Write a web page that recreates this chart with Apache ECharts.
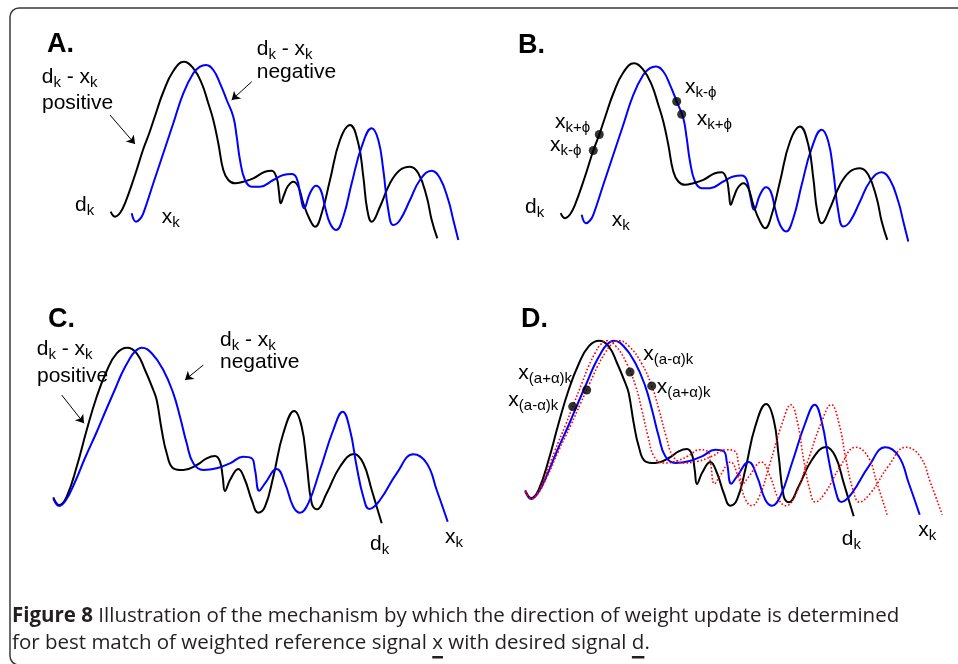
<!DOCTYPE html>
<html>
<head>
<meta charset="utf-8">
<title>Figure 8</title>
<script src="https://cdn.jsdelivr.net/npm/echarts@6/dist/echarts.min.js"></script>
<style>
  html, body { margin: 0; padding: 0; background: #fff; }
</style>
</head>
<body>
<div id="main" style="width:958px;height:664px;"></div>
<script type="text/javascript">

// ---- signals of panels A and B (time, amplitude) ----
var dkAB = [[10.7,38.3],[15,33.3],[20,37],[25,46.7],[35,75],[43.3,101],[49.3,117],[55,134],[63.3,158],[73.3,179],[84,188.3],
  [93.3,181.7],[101.7,166.7],[108.3,146.7],[113.3,130],[118.3,106.7],[123.3,80],[128.3,70],[135,66.7],[143.3,68.3],
  [153.3,71.7],[165,78.3],[171.7,79.3],[176.7,72],[179,58],[180.7,46.7],[184,55],[188,64],[193.3,68.3],[198.3,63.3],
  [203.3,46.7],[210,30],[215,23.3],[221.7,36.7],[230,70],[240,110],[250,125],[258.3,106.7],[263.3,73.3],[267.3,40],
  [271.7,28.3],[280,43.3],[290,66.7],[300,80],[310,83.3],[318.3,76.7],[326.7,53.3],[331.7,30],[337.3,11.7]];
var xkAB = [[31.7,36.7],[36,28.3],[40,31],[43.3,36.7],[53.3,66.7],[63.3,96.7],[73.3,126.7],[83.3,156.7],[93.3,176.7],
  [100,183.3],[106,185],[113.3,180],[120,166.7],[126.7,150],[133.3,133.3],[136.7,113.3],[140,90],[145,70],[151.7,63.3],
  [160,63.3],[173.3,70],[183.3,75],[191.7,76],[196.7,71.7],[200.7,53.3],[204,41.7],[210,56.7],[216,64.3],[220.7,60],
  [225,43.3],[230,26.7],[236,20],[243.3,33.3],[251.7,66.7],[261.7,103.3],[271.7,121.7],[278.3,110],[283.3,80],
  [288.3,40],[293.3,25],[300,30],[310,50],[320,70],[331.7,79.3],[340,71.7],[348.3,50],[353.3,30],[358.3,10]];
var dotsB = [[43.3,101],[49.3,117],[126.7,150],[131.7,137.3]];

// ---- signals of panels C and D ----
var dkCD = [[3.3,32.7],[9.3,25],[16.7,33.3],[26.7,63.3],[36.7,100],[46.7,133.3],[56.7,159],[66.7,176.7],[77.3,182.3],
  [86.7,176.7],[95,160],[103.3,140],[106.7,130],[111.7,100],[116.7,76.7],[123.3,61.7],[133.3,60],[146.7,65],
  [156.7,71.7],[165,74],[170,68.3],[172.7,53.3],[175,39],[180,50],[188.3,61],[195,50],[201.7,30],[208.3,17.3],
  [215,23.3],[223.3,53.3],[233.3,96.7],[244.3,119],[251.7,103.3],[256.7,66.7],[261.7,26.7],[266.7,20.7],[276.7,36.7],
  [290,63.3],[304,76],[313.3,66.7],[321.7,40],[326.7,23.3],[331.7,6.7]];
var xkCD = [[3.3,31.7],[9.3,24],[16,30],[25,48],[35,72],[46.7,98],[56,120],[64.7,140],[72,157],[79,170],[85,178.5],
  [91.7,182.3],[101.7,176.7],[113.3,160],[123.3,136.7],[130,113.3],[136.7,86.7],[143.3,66.7],[153.3,60],[166.7,61.7],
  [180,66.7],[193.3,73.3],[201.7,71.7],[205,60],[209.3,39.3],[215,46.7],[226.7,61],[235,46.7],[243.3,23.3],[250,17.3],
  [258.3,26.7],[270,60],[283.3,100],[292.7,118.3],[300,100],[306.7,63.3],[313.3,33.3],[319.3,21],[330,30],[346.7,56.7],
  [363.3,75.7],[376.7,66.7],[386.7,40],[397.7,8.3]];
// x_(a+alpha)k : faster copy of x
var xFastD = [[3.8,31.7],[9.3,24],[15.4,30],[23.7,48],[32.8,72],[43.5,98],[52.1,120],[60,140],[66.7,157],[73.1,170],
  [78.6,178.5],[84.8,182.3],[93.9,176.7],[104.5,160],[113.7,136.7],[119.8,113.3],[126,86.7],[132,66.7],[141.2,60],
  [153.5,61.7],[165.6,66.7],[177.8,73.3],[185.5,71.7],[188.5,60],[192.5,39.3],[197.7,46.7],[208.4,61],[216,46.7],
  [223.6,23.3],[229.8,17.3],[237.4,26.7],[248.1,60],[260.3,100],[268.9,118.3],[275.6,100],[281.7,63.3],[287.8,33.3],
  [293.2,21],[303,30],[318.3,56.7],[333.6,75.7],[345.8,66.7],[355,40],[365.1,8.3]];
// x_(a-alpha)k : slower copy of x
var xSlowD = [[3,31.7],[9.3,24],[16.4,30],[25.9,48],[36.5,72],[48.9,98],[58.7,120],[67.9,140],[75.7,157],[83.1,170],
  [89.4,178.5],[96.5,182.3],[107.1,176.7],[119.4,160],[129.9,136.7],[137,113.3],[144.1,86.7],[151.1,66.7],[161.7,60],
  [175.8,61.7],[189.9,66.7],[204,73.3],[212.9,71.7],[216.4,60],[220.9,39.3],[227,46.7],[239.3,61],[248.1,46.7],
  [256.9,23.3],[264,17.3],[272.8,26.7],[285.1,60],[299.2,100],[309.2,118.3],[316.9,100],[324,63.3],[331,33.3],
  [337.3,21],[348.6,30],[366.3,56.7],[383.9,75.7],[398,66.7],[408.6,40],[420.2,8.3]];
var dotsD = [[50.7,116.4],[64.7,133],[108,151],[129.7,137.1]];

// arrows [from, to] in panel coordinates
var arrowsA = [[[10,135],[35,106]], [[151.7,168.3],[131.7,150]]];
var arrowsC = [[[11.7,135],[34,106.7]], [[153.3,165],[135,150]]];

var captionLine1a = 'Figure 8';
var captionLine1b = ' Illustration of the mechanism by which the direction of weight update is determined';
var captionLine2a = 'for best match of weighted reference signal ';
var captionLine2b = 'x';
var captionLine2c = ' with desired signal ';
var captionLine2d = 'd';

var FONT = '"Liberation Sans", Arial, sans-serif';
var CAPFONT = '"Open Sans", sans-serif';

var grids = [
  { left: 100, top: 50, width: 370, height: 200 },
  { left: 550, top: 51.5, width: 370, height: 200 },
  { left: 50, top: 330, width: 430, height: 200 },
  { left: 522, top: 323, width: 430, height: 200 }
];

function curve(idx, data, color, extra) {
  var s = {
    type: 'line', xAxisIndex: idx, yAxisIndex: idx, data: data,
    smooth: 0.45, showSymbol: false, symbol: 'none', silent: true,
    lineStyle: { color: color, width: 2 }
  };
  for (var k in (extra || {})) s[k] = extra[k];
  return s;
}

function dots(idx, data) {
  return {
    type: 'scatter', xAxisIndex: idx, yAxisIndex: idx, data: data, silent: true,
    symbol: 'circle', symbolSize: 9, itemStyle: { color: '#000' }, z: 5
  };
}

function arrows(list) {
  return {
    silent: true, symbol: ['none', 'arrow'], symbolSize: 8,
    lineStyle: { color: '#000', width: 1, type: 'solid' }, label: { show: false },
    data: list.map(function (a) { return [{ coord: a[0] }, { coord: a[1] }]; })
  };
}

var rich = {
  m: { fontSize: 21, fontFamily: FONT, lineHeight: 25 },
  s: { fontSize: 15, fontFamily: FONT, lineHeight: 14, verticalAlign: 'bottom' }
};

// label helper: x = left edge, base = baseline of main letters
function lab(x, base, txt) {
  if (txt.indexOf('{') < 0) txt = '{m|' + txt + '}';
  return {
    type: 'text', x: x, y: base - 20, silent: true,
    style: { text: txt, rich: rich, fill: '#000', align: 'left', verticalAlign: 'top' }
  };
}
// panel letter, y = top of the capital
function panelTitle(x, top, txt) {
  return {
    type: 'text', x: x, y: top, silent: true,
    style: { text: txt, font: 'bold 27px ' + FONT, fill: '#000', align: 'left', verticalAlign: 'top' }
  };
}

var DK = '{m|d}{s|k}', XK = '{m|x}{s|k}', DMX = '{m|d}{s|k}{m| - x}{s|k}';

// caption font size fitted to the printed line width
var ctx = document.createElement('canvas').getContext('2d');
function tw(t, f) { ctx.font = f; return ctx.measureText(t).width; }
var w1 = tw(captionLine1a, 'bold 20px ' + CAPFONT) + tw(captionLine1b, '20px ' + CAPFONT);
var capSize = Math.round(20 * 886 / w1 * 10) / 10;
var capF = capSize + 'px ' + CAPFONT;
var ulX = 12 + tw(captionLine2a, capF);
var ulW = tw(captionLine2b, capF);
var ulX2 = ulX + ulW + tw(captionLine2c, capF);
var ulW2 = tw(captionLine2d, capF);

var graphics = [
  { type: 'rect', silent: true, shape: { x: 10, y: 8, width: 990, height: 657, r: 9 },
    style: { fill: 'none', stroke: '#3a3a3a', lineWidth: 1.5 } },
  panelTitle(47, 31, 'A.'), panelTitle(518, 32, 'B.'), panelTitle(48, 306, 'C.'), panelTitle(521, 306, 'D.'),
  // A
  lab(41.7, 85, DMX), lab(42, 111, 'positive'), lab(256.7, 57, DMX), lab(256.7, 80, 'negative'),
  lab(75, 213, DK), lab(161.7, 225, XK),
  // B
  lab(685, 95, '{m|x}{s|k-ϕ}'), lab(696.7, 127, '{m|x}{s|k+ϕ}'),
  lab(555, 130, '{m|x}{s|k+ϕ}'), lab(550, 153, '{m|x}{s|k-ϕ}'),
  lab(525, 215, DK), lab(611.7, 228, XK),
  // C
  lab(36.7, 357, DMX), lab(37, 384, 'positive'), lab(220, 348, DMX), lab(220, 370, 'negative'),
  lab(370, 552, DK), lab(445, 545, XK),
  // D
  lab(518.3, 381, '{m|x}{s|(a+α)k}'), lab(508.3, 408, '{m|x}{s|(a-α)k}'),
  lab(643.3, 362, '{m|x}{s|(a-α)k}'), lab(656.7, 395, '{m|x}{s|(a+α)k}'),
  lab(841.7, 547, DK), lab(918.3, 538, XK),
  // caption
  { type: 'text', x: 12, y: 606, silent: true,
    style: { text: '{b|' + captionLine1a + '}{n|' + captionLine1b + '}', fill: '#231f20', verticalAlign: 'top',
      rich: { b: { font: 'bold ' + capF }, n: { font: capF } } } },
  { type: 'text', x: 12, y: 633, silent: true,
    style: { text: captionLine2a + captionLine2b + captionLine2c + captionLine2d + '.', font: capF,
      fill: '#231f20', verticalAlign: 'top' } },
  { type: 'rect', silent: true, shape: { x: ulX, y: 656, width: ulW, height: 2.5 }, style: { fill: '#231f20' } },
  { type: 'rect', silent: true, shape: { x: ulX2, y: 656, width: ulW2, height: 2.5 }, style: { fill: '#231f20' } }
];

var option = {
  animation: false,
  backgroundColor: '#fff',
  grid: grids,
  xAxis: grids.map(function (g, i) {
    return { type: 'value', gridIndex: i, min: 0, max: g.width, show: false, splitLine: { show: false } };
  }),
  yAxis: grids.map(function (g, i) {
    return { type: 'value', gridIndex: i, min: 0, max: 200, show: false, splitLine: { show: false } };
  }),
  series: [
    curve(0, dkAB, '#000', { markLine: arrows(arrowsA) }),
    curve(0, xkAB, '#0000ff'),
    curve(1, xkAB, '#0000ff'),
    curve(1, dkAB, '#000'),
    dots(1, dotsB),
    curve(2, dkCD, '#000', { markLine: arrows(arrowsC) }),
    curve(2, xkCD, '#0000ff'),
    curve(3, dkCD, '#000'),
    curve(3, xkCD, '#0000ff'),
    curve(3, xFastD, '#ff0000', { lineStyle: { color: '#ff0000', width: 1.6, type: [1.6, 2] } }),
    curve(3, xSlowD, '#ff0000', { lineStyle: { color: '#ff0000', width: 1.6, type: [1.6, 2] } }),
    dots(3, dotsD)
  ],
  graphic: graphics
};

var myChart = echarts.init(document.getElementById('main'));
myChart.setOption(option);
</script>
</body>
</html>
